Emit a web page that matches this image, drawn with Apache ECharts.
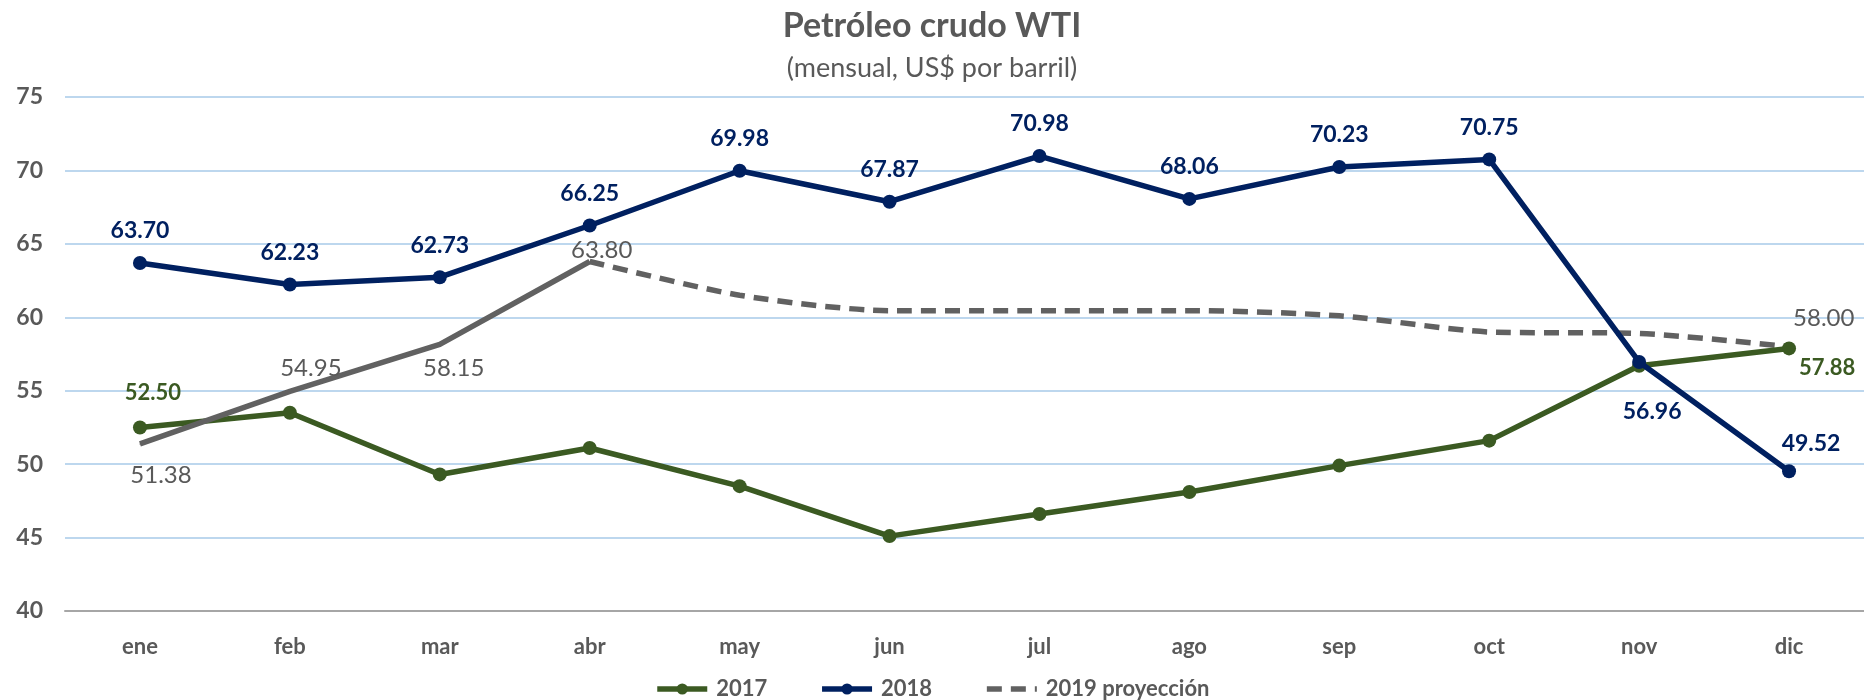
<!DOCTYPE html>
<html>
<head>
<meta charset="utf-8">
<script src="https://cdn.jsdelivr.net/npm/echarts@6/dist/echarts.min.js"></script>
<style>
  html, body { margin: 0; padding: 0; background: #fff; }
  #main { width: 1864px; height: 700px; }
</style>
</head>
<body>
<div id="main"></div>
<script>
var months = ['ene', 'feb', 'mar', 'abr', 'may', 'jun', 'jul', 'ago', 'sep', 'oct', 'nov', 'dic'];
var yTicks = [40, 45, 50, 55, 60, 65, 70, 75];

var wti2017 = [52.50, 53.5, 49.3, 51.1, 48.5, 45.1, 46.6, 48.1, 49.9, 51.6, 56.7, 57.88];
var wti2018 = [63.70, 62.23, 62.73, 66.25, 69.98, 67.87, 70.98, 68.06, 70.23, 70.75, 56.96, 49.52];
var wti2019 = [51.38, 54.95, 58.15, 63.80, null, null, null, null, null, null, null, null];
var proy2019 = [null, null, null, 63.80, 61.5, 60.45, 60.45, 60.45, 60.1, 59.0, 58.9, 58.00];

var GREEN = '#3b5a22', NAVY = '#002060', GRAY = '#616161', TXT = '#595959';
var FONT = 'Lato, "Liberation Sans", sans-serif';

// label offsets (dx, dy) from the point; null = no label
var off2017 = [[13, -35], null, null, null, null, null, null, null, null, null, null, [38, 19]];
var off2018 = [[0, -32], [0, -32], [0, -32], [0, -32], [0, -32], [0, -32], [0, -32], [0, -32], [0, -32], [0, -32], [13, 50], [22, -28]];
var off2019 = [[21, 31], [21, -23], [14, 24], [12, -11]];

function withLabels(values, offsets, style) {
  return values.map(function (v, i) {
    var o = offsets[i];
    if (v == null) return '-';
    if (!o) return v;
    return {
      value: v,
      label: Object.assign({
        show: true,
        position: 'inside',
        offset: o,
        fontFamily: FONT,
        formatter: function (p) { return p.value.toFixed(2); }
      }, style)
    };
  });
}

var chart = echarts.init(document.getElementById('main'), null, { renderer: 'canvas' });

var option = {
  animation: false,
  title: {
    text: 'Petróleo crudo WTI',
    subtext: '(mensual, US$ por barril)',
    left: 'center',
    top: 4,
    itemGap: 12,
    textStyle: { fontFamily: FONT, fontSize: 34, fontWeight: 'bold', color: TXT },
    subtextStyle: { fontFamily: FONT, fontSize: 27, color: TXT }
  },
  legend: {
    data: [
      { name: '2017' },
      { name: '2018' },
      { name: '2019 proyección', itemStyle: { opacity: 0 } }
    ],
    left: 'center',
    top: 673,
    itemWidth: 50,
    itemHeight: 14,
    itemGap: 52,
    lineStyle: { width: 5.5 },
    textStyle: { fontFamily: FONT, fontSize: 22, fontWeight: 'bold', color: TXT, padding: [0, 0, 0, 4] }
  },
  grid: { left: 65, top: 97, width: 1803, height: 514 },
  xAxis: {
    type: 'category',
    data: months,
    axisLine: { lineStyle: { color: '#a6a6a6', width: 2 } },
    axisTick: { show: false },
    axisLabel: { margin: 25, fontFamily: FONT, fontSize: 22, fontWeight: 'bold', color: TXT }
  },
  yAxis: {
    type: 'value',
    min: yTicks[0],
    max: yTicks[yTicks.length - 1],
    interval: 5,
    axisLine: { show: false },
    axisTick: { show: false },
    splitLine: { lineStyle: { color: '#bdd7ee', width: 2 } },
    axisLabel: { margin: 22, fontFamily: FONT, fontSize: 23, fontWeight: 'bold', color: TXT }
  },
  series: [
    {
      name: '2019 proyección',
      type: 'line',
      data: proy2019.map(function (v) { return v == null ? '-' : v; }),
      symbol: 'none',
      smooth: 0.25,
      lineStyle: { color: GRAY, width: 5.5, type: [15, 9] },
      itemStyle: { color: GRAY },
      endLabel: {
        show: true,
        offset: [-4, -28],
        fontFamily: FONT, fontSize: 24, color: TXT,
        formatter: function (p) { return p.value.toFixed(2); }
      },
      z: 2
    },
    {
      name: '2017',
      type: 'line',
      data: withLabels(wti2017, off2017, { fontSize: 22, fontWeight: 'bold', color: GREEN }),
      symbol: 'circle',
      symbolSize: 14,
      lineStyle: { color: GREEN, width: 5.5 },
      itemStyle: { color: GREEN },
      z: 3
    },
    {
      name: '2019',
      type: 'line',
      data: withLabels(wti2019, off2019, { fontSize: 24, color: TXT }),
      symbol: 'circle',
      symbolSize: 1,
      lineStyle: { color: GRAY, width: 5.5 },
      itemStyle: { color: GRAY },
      z: 4
    },
    {
      name: '2018',
      type: 'line',
      data: withLabels(wti2018, off2018, { fontSize: 23, fontWeight: 'bold', color: NAVY }),
      symbol: 'circle',
      symbolSize: 14,
      lineStyle: { color: NAVY, width: 5.5 },
      itemStyle: { color: NAVY },
      z: 5
    }
  ]
};

chart.setOption(option);
</script>
</body>
</html>
